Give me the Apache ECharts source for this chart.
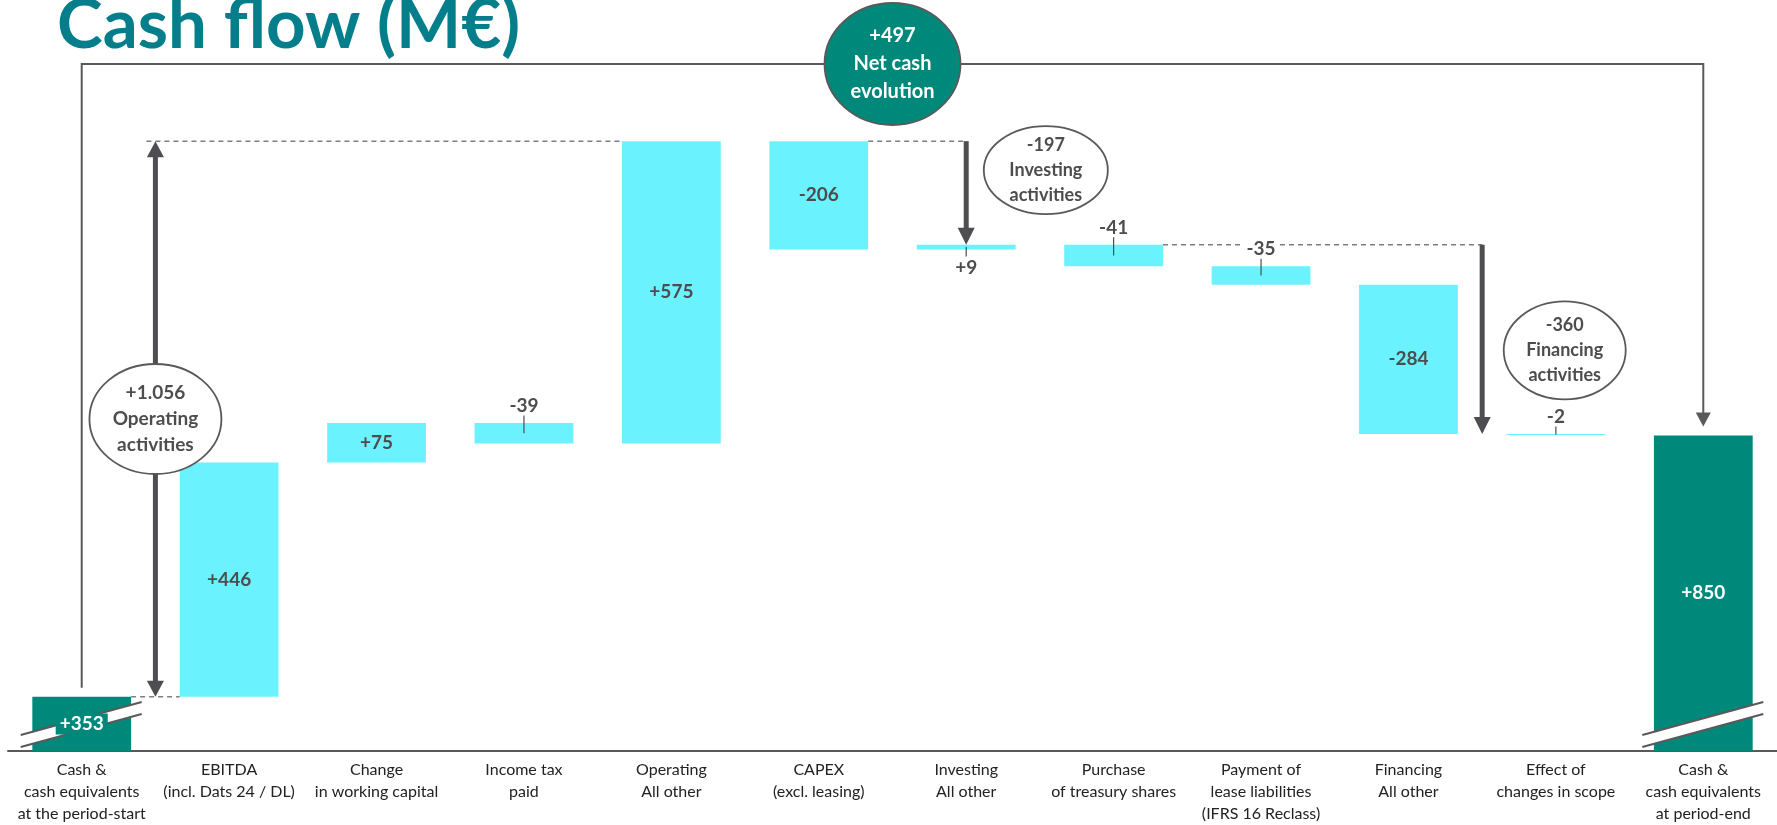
<!DOCTYPE html>
<html><head><meta charset="utf-8">
<script src="https://cdn.jsdelivr.net/npm/echarts@6/dist/echarts.min.js"></script>
<style>html,body{margin:0;padding:0;background:#fff}#c{width:1777px;height:825px}</style>
</head><body><div id="c"></div>
<script>
// ---------- DATA ----------
const categories = [
  'Cash &\ncash equivalents\nat the period-start',
  'EBITDA\n(incl. Dats 24 / DL)',
  'Change\nin working capital',
  'Income tax\npaid',
  'Operating\nAll other',
  'CAPEX\n(excl. leasing)',
  'Investing\nAll other',
  'Purchase\nof treasury shares',
  'Payment of\nlease liabilities\n(IFRS 16 Reclass)',
  'Financing\nAll other',
  'Effect of\nchanges in scope',
  'Cash &\ncash equivalents\nat period-end'
];
const values = [353, 446, 75, -39, 575, -206, 9, -41, -35, -284, -2, 850];
const totalIndex = [0, 11];
const subtotalNames = ['Operating\nactivities', 'Investing\nactivities', 'Financing\nactivities', 'Net cash\nevolution'];
const subtotalValues = [1056, -197, -360, 497];
const subtotalEndIndex = [4, 6, 9, 11];   // group ends (cumulative level)

// ---------- STYLE / LAYOUT ----------
const FONT = 'Lato, Carlito, "Open Sans", sans-serif';
const TEAL = '#00897B', CYAN = '#6BF2FF', TXT = '#4D4D4F', LINE = '#59595B', ARROW = '#4E4E52';
const Y_MIN = 250, Y_MAX = 1650, BAR_RATIO = 0.67, FRAME_Y = 64;

// ---------- derived ----------
const lows = [], highs = [], levels = [];
let cum = 0;
values.forEach((v, i) => {
  if (totalIndex.includes(i)) { lows.push(0); highs.push(v); cum = v; }
  else { const a = cum, b = cum + v; lows.push(Math.min(a, b)); highs.push(Math.max(a, b)); cum = b; }
  levels.push(cum);
});
const fmt = v => {
  const s = Math.abs(v).toString().replace(/\B(?=(\d{3})+(?!\d))/g, '.');
  return (v > 0 ? '+' : '-') + s;
};

function renderAnno(params, api) {
  const x0 = api.coord([0, Y_MIN])[0], x1 = api.coord([1, Y_MIN])[0];
  const band = x1 - x0;
  const X = t => x0 + t * band;
  const Y = v => api.coord([0, v])[1];
  const bw = band * BAR_RATIO / 2;
  const base = Y(Y_MIN);
  const ch = [];
  const line = (pts, w, c, dash) => ch.push({ type: 'polyline', shape: { points: pts }, style: { stroke: c, lineWidth: w, fill: null, lineDash: dash || null } });
  const head = (x, tip, dir, w, h, c) => ch.push({ type: 'polygon', shape: { points: [[x - w / 2, tip - dir * h], [x + w / 2, tip - dir * h], [x, tip]] }, style: { fill: c } });
  const text = (x, y, t, o) => ch.push({ type: 'text', x: x, y: y, style: Object.assign({ text: t, align: 'center', verticalAlign: 'middle', fill: TXT, fontFamily: FONT, fontWeight: 'bold', fontSize: 19 }, o || {}) });
  const ell = (cx, cy, rx, ry, fill, lines, tc, fs, lh) => {
    ch.push({ type: 'ellipse', shape: { cx: cx, cy: cy, rx: rx, ry: ry }, style: { fill: fill, stroke: LINE, lineWidth: 1.8 } });
    text(cx, cy, lines, { fill: tc, fontSize: fs, lineHeight: lh });
  };
  const dash = (y, xa, xb) => line([[xa, y], [xb, y]], 1.5, '#7F7F7F', [5, 4]);

  // dashed connectors
  dash(Y(levels[0]), X(0) + bw, X(1) - bw);
  dash(Y(levels[4]), X(0.5) - 9, X(4) - bw);
  dash(Y(levels[4]), X(5) + bw, X(6));
  dash(Y(levels[6]), X(7) + bw, X(9.5));

  // net cash frame
  const fy0 = Y(levels[0]) - 9, fy1 = Y(levels[11]) - 9;
  line([[X(0), fy0], [X(0), FRAME_Y], [X(11), FRAME_Y], [X(11), fy1 - 12]], 2, LINE);
  head(X(11), fy1, 1, 15, 14, LINE);

  // operating double arrow
  const oa = Y(levels[0]), ob = Y(levels[4]), ox = X(0.5);
  line([[ox, oa - 14], [ox, ob + 14]], 5, ARROW);
  head(ox, oa, 1, 17, 16, ARROW);
  head(ox, ob, -1, 17, 16, ARROW);
  // investing arrow
  const ia = Y(levels[4]), ib = Y(levels[6]), ix = X(6);
  line([[ix, ia], [ix, ib - 14]], 5, ARROW);
  head(ix, ib, 1, 17, 17, ARROW);
  // financing arrow
  const fa = Y(levels[6]), fb = Y(levels[9]), fx = X(9.5);
  line([[fx, fa], [fx, fb - 14]], 5, ARROW);
  head(fx, fb, 1, 17, 17, ARROW);

  // ellipses
  ell(ox, (oa + ob) / 2, 66, 55, '#fff', fmt(subtotalValues[0]) + '\n' + subtotalNames[0], TXT, 19, 26);
  ell(X(6.54), ia + 29, 62, 44, '#fff', fmt(subtotalValues[1]) + '\n' + subtotalNames[1], TXT, 18, 25);
  ell(X(10.06), (fa + fb) / 2 + 11, 61, 49, '#fff', fmt(subtotalValues[2]) + '\n' + subtotalNames[2], TXT, 18, 25);
  ell(X(5.5), FRAME_Y, 68, 61, TEAL, fmt(subtotalValues[3]) + '\n' + subtotalNames[3], '#fff', 20, 28);

  // axis breaks on total bars
  totalIndex.forEach(i => {
    const cx = X(i);
    const p = [[cx - 61, base - 16], [cx + 60, base - 49], [cx + 60, base - 37], [cx - 61, base - 4]];
    ch.push({ type: 'polygon', shape: { points: p }, style: { fill: '#fff' } });
    line([p[0], p[1]], 2, LINE);
    line([p[3], p[2]], 2, LINE);
  });

  // value labels
  values.forEach((v, i) => {
    const yt = Y(highs[i]), yb = Math.min(Y(lows[i]), base);
    const cx = X(i), mid = (yt + yb) / 2;
    if (totalIndex.includes(i)) {
      text(cx, mid, fmt(v), { fill: '#fff', backgroundColor: TEAL, padding: [1, 4] });
    } else if (yb - yt >= 30) {
      text(cx, mid, fmt(v));
    } else if (v < 0) {
      const ly = yt - 17;
      line([[cx, ly + 9], [cx, mid]], 1.2, TXT);
      text(cx, ly, fmt(v), { backgroundColor: '#fff', padding: [0, 3] });
    } else {
      const ly = yb + 18;
      line([[cx, mid], [cx, ly - 11]], 1.2, TXT);
      text(cx, ly, fmt(v));
    }
  });
  return { type: 'group', children: ch };
}

const chart = echarts.init(document.getElementById('c'), null, { renderer: 'canvas' });
chart.setOption({
  backgroundColor: '#fff',
  animation: false,
  graphic: [{
    type: 'text', x: 57, y: 26,
    style: { text: 'Cash flow (M€)', fill: '#037E8A', fontFamily: FONT, fontWeight: 'bold', fontSize: 69, verticalAlign: 'middle' }
  }],
  grid: { left: 8, right: 0, top: 15, bottom: 74, containLabel: false, outerBoundsMode: 'none' },
  xAxis: {
    type: 'category', data: categories,
    axisTick: { show: false },
    axisLine: { lineStyle: { color: '#59595B', width: 2 } },
    axisLabel: { interval: 0, fontSize: 16, lineHeight: 22, color: '#222', margin: 8, fontFamily: FONT }
  },
  yAxis: { type: 'value', min: Y_MIN, max: Y_MAX, show: false },
  series: [
    { type: 'bar', stack: 'w', data: lows, barWidth: (BAR_RATIO * 100) + '%', itemStyle: { color: 'transparent' }, silent: true },
    { type: 'bar', stack: 'w', data: highs.map((h, i) => ({ value: h - lows[i], itemStyle: { color: totalIndex.includes(i) ? TEAL : CYAN } })), barWidth: (BAR_RATIO * 100) + '%' },
    { type: 'custom', z: 5, data: [[0, Y_MIN]], renderItem: renderAnno, clip: false }
  ]
});
</script></body></html>
